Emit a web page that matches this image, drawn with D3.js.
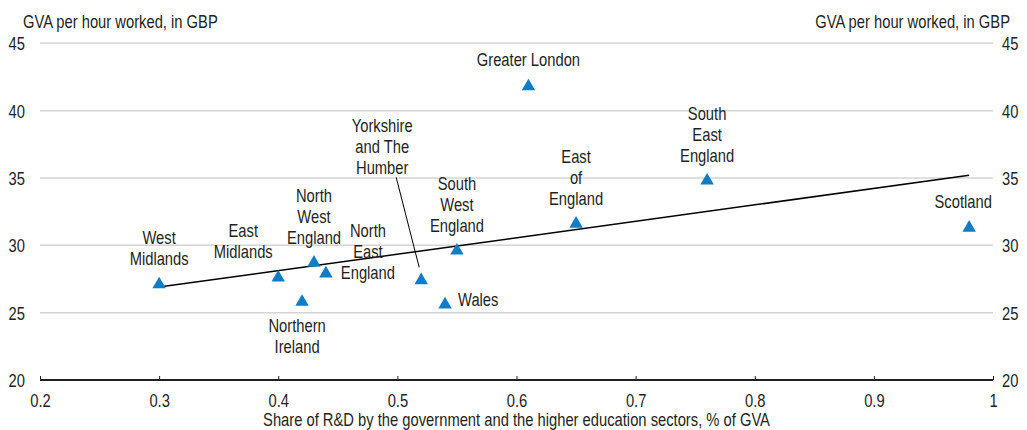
<!DOCTYPE html>
<html>
<head>
<meta charset="utf-8">
<script src="https://cdn.jsdelivr.net/npm/d3@7"></script>
<style>
  html, body { margin: 0; padding: 0; background: #fff; }
  svg text { fill: #231f20; }
</style>
</head>
<body>
<svg id="chart" width="1027" height="430"></svg>
<script>
// ---- data ----
const regions = ["West Midlands", "East Midlands", "Northern Ireland", "North West England", "North East England",
  "Yorkshire and The Humber", "Wales", "South West England", "Greater London", "East of England",
  "South East England", "Scotland"];
const rdShare = [0.30, 0.40, 0.42, 0.43, 0.44, 0.52, 0.54, 0.55, 0.61, 0.65, 0.76, 0.98];
const gvaPerHour = [27.1, 27.6, 25.8, 28.7, 27.9, 27.4, 25.6, 29.6, 41.8, 31.6, 34.8, 31.3];
const trendX = [0.30, 0.98];
const trendY = [26.9, 35.2];
const xTicks = [0.2, 0.3, 0.4, 0.5, 0.6, 0.7, 0.8, 0.9, 1];
const xTickLabels = ["0.2", "0.3", "0.4", "0.5", "0.6", "0.7", "0.8", "0.9", "1"];
const yTicks = [20, 25, 30, 35, 40, 45];
const yTitle = "GVA per hour worked, in GBP";
const xTitle = "Share of R&D by the government and the higher education sectors, % of GVA";
const labelLines = [["West", "Midlands"], ["East", "Midlands"], ["Northern", "Ireland"], ["North", "West", "England"],
  ["North", "East", "England"], ["Yorkshire", "and The", "Humber"], ["Wales"], ["South", "West", "England"],
  ["Greater London"], ["East", "of", "England"], ["South", "East", "England"], ["Scotland"]];
const labelOffsets = [[0, -47], [-35, -47], [-5, 24], [0, -67], [42, -43], [-39, -155], [13, -5], [0, -67], [0, -27], [0, -67], [0, -67], [-6, -26]];
const labelAnchor = ["middle", "middle", "middle", "middle", "middle", "middle", "start", "middle", "middle", "middle", "middle", "middle"];

// ---- setup ----
const svg = d3.select("#chart");
const x = d3.scaleLinear().domain([0.2, 1]).range([40, 993]);
const y = d3.scaleLinear().domain([20, 45]).range([380, 43.3]);

const FONT = "'Liberation Sans', Arial, sans-serif";
const FS = 18;
const SX = 0.82; // horizontal condensing to mimic a condensed face
svg.style("font-family", FONT).style("font-size", FS + "px");

// helper: condensed multi-line text; (px,py) = anchor point of first baseline
function ctext(parent, px, py, lines, anchor, lh) {
  const t = parent.append("text")
    .attr("transform", `translate(${px},${py}) scale(${SX},1)`)
    .attr("text-anchor", anchor || "middle");
  (Array.isArray(lines) ? lines : [lines]).forEach((line, k) => {
    t.append("tspan").attr("x", 0).attr("y", k * (lh || 0)).text(line);
  });
  return t;
}

// gridlines
svg.append("g").selectAll("line").data(yTicks.filter(d => d > 20)).join("line")
  .attr("x1", x(0.2)).attr("x2", x(1))
  .attr("y1", d => y(d)).attr("y2", d => y(d))
  .attr("stroke", "#d4d4d4").attr("stroke-width", 1.5);

// x axis
const xAxis = d3.axisBottom(x).tickValues(xTicks).tickFormat((d, i) => xTickLabels[i]).tickSize(0).tickPadding(0);
const gx = svg.append("g").attr("transform", `translate(0,${y(20)})`).call(xAxis);
gx.select(".domain").remove();
gx.selectAll("text").attr("dy", null).attr("y", 0)
  .attr("transform", `translate(0,27) scale(${SX},1)`)
  .style("font-family", FONT).style("font-size", FS + "px").attr("fill", "#231f20");
gx.selectAll(".tick").append("line").attr("y1", 0).attr("y2", -4).attr("stroke", "#231f20").attr("stroke-width", 1);
svg.append("line").attr("x1", x(0.2)).attr("x2", x(1)).attr("y1", y(20)).attr("y2", y(20))
  .attr("stroke", "#231f20").attr("stroke-width", 2);

// y axes (left & right)
const yl = d3.axisLeft(y).tickValues(yTicks).tickSize(0).tickPadding(0);
const gyl = svg.append("g").attr("transform", "translate(25,0)").call(yl);
gyl.select(".domain").remove();
gyl.selectAll("text").attr("x", 0).attr("dy", "0.36em").attr("transform", `scale(${SX},1)`)
  .style("font-family", FONT).style("font-size", FS + "px").attr("fill", "#231f20");
const yr = d3.axisRight(y).tickValues(yTicks).tickSize(0).tickPadding(0);
const gyr = svg.append("g").attr("transform", "translate(1002,0)").call(yr);
gyr.select(".domain").remove();
gyr.selectAll("text").attr("x", 0).attr("dy", "0.36em").attr("transform", `scale(${SX},1)`)
  .style("font-family", FONT).style("font-size", FS + "px").attr("fill", "#231f20");

// titles
ctext(svg, 23, 28, yTitle, "start");
ctext(svg, 1010, 28, yTitle, "end");
ctext(svg, (x(0.2) + x(1)) / 2, 426, xTitle, "middle");

// trend line
svg.append("line")
  .attr("x1", x(trendX[0])).attr("y1", y(trendY[0]))
  .attr("x2", x(trendX[1])).attr("y2", y(trendY[1]))
  .attr("stroke", "#000").attr("stroke-width", 1.5);

// leader line for Yorkshire
const yi = regions.indexOf("Yorkshire and The Humber");
svg.append("line")
  .attr("x1", x(rdShare[yi]) - 25).attr("y1", y(gvaPerHour[yi]) - 103)
  .attr("x2", x(rdShare[yi]) - 2).attr("y2", y(gvaPerHour[yi]) - 13)
  .attr("stroke", "#000").attr("stroke-width", 1);

// markers
const tri = d3.symbol().type(d3.symbolTriangle).size(78);
svg.append("g").selectAll("path").data(regions).join("path")
  .attr("d", tri)
  .attr("transform", (d, i) => `translate(${x(rdShare[i])},${y(gvaPerHour[i])})`)
  .attr("fill", "#0f7cc4");

// labels
const lg = svg.append("g");
regions.forEach((r, i) => {
  const cx = x(rdShare[i]) + labelOffsets[i][0];
  const cy = y(gvaPerHour[i]) + labelOffsets[i][1];
  ctext(lg, cx, cy + 6.5, labelLines[i], labelAnchor[i], 21);
});
</script>
</body>
</html>
